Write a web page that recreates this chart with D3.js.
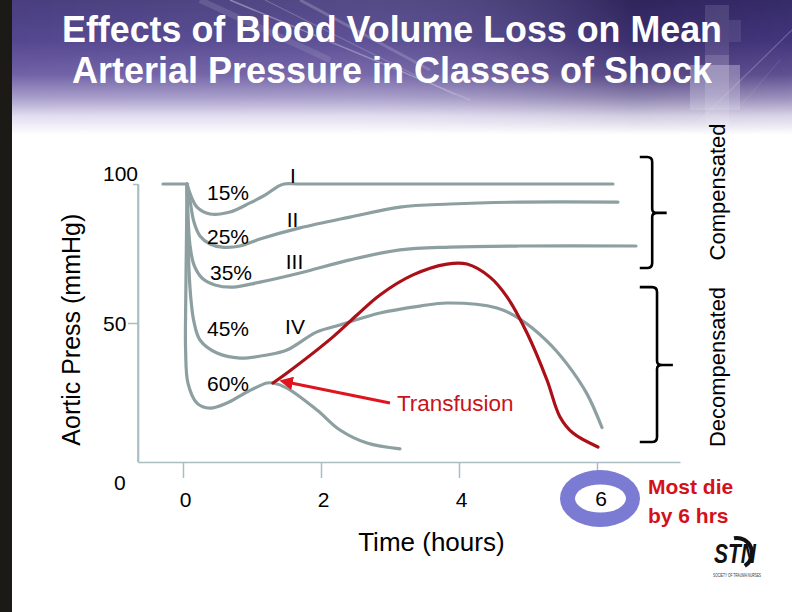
<!DOCTYPE html>
<html><head><meta charset="utf-8">
<script src="https://cdn.jsdelivr.net/npm/d3@7"></script>
<style>
body{margin:0;background:#fff}
svg{display:block}
text{font-family:Arial,"Liberation Sans",Helvetica,sans-serif}
</style>
</head><body>
<svg id="c" width="792" height="612"></svg>
<script>
// ---------------- data ----------------
const titleLines = ["Effects of Blood Volume Loss on Mean", "Arterial Pressure in Classes of Shock"];
const yTicks = [0, 50, 100];
const xTicks = [0, 2, 4, 6];
const lossLabels = ["15%", "25%", "35%", "45%", "60%"];
const classLabels = ["I", "II", "III", "IV"];

const hBase = [-0.29, 0.058];
const pBase = [100, 100];

const h15 = [0.058, 0.116, 0.203, 0.391, 0.681, 0.971, 1.188, 1.362, 1.464, 1.7, 6.232];
const p15 = [100, 95.7, 91.7, 89.2, 89.9, 93.2, 96.0, 98.9, 100, 100, 100];

const h25 = [0.058, 0.101, 0.159, 0.246, 0.391, 0.565, 0.826, 1.116, 1.696, 2.42, 3.145, 3.87, 4.884, 6.304];
const p25 = [100, 94.2, 86.3, 81.3, 78.4, 77.3, 77.7, 80.2, 84.2, 88.1, 91.7, 92.8, 93.5, 93.5];

const h35 = [0.058, 0.072, 0.101, 0.159, 0.275, 0.464, 0.725, 1.116, 1.696, 2.42, 3.145, 3.87, 4.884, 6.565];
const p35 = [100, 88.8, 78.1, 70.9, 66.2, 63.7, 62.9, 64.7, 68.0, 72.7, 76.3, 77.3, 77.7, 77.7];

const h45 = [0.058, 0.072, 0.087, 0.116, 0.159, 0.246, 0.493, 0.826, 1.217, 1.507, 1.942, 2.275, 2.855, 3.435, 3.826, 4.551, 4.884, 5.275, 5.565, 5.855, 6.072];
const p45 = [100, 83.5, 69.1, 58.3, 50.4, 43.9, 39.2, 37.4, 38.5, 40.3, 46.8, 49.3, 53.6, 56.1, 57.2, 55.4, 51.4, 43.5, 35.3, 24.5, 12.4];

const h60 = [0.058, 0.05, 0.04, 0.038, 0.072, 0.203, 0.391, 0.638, 0.928, 1.217, 1.304, 1.507, 1.942, 2.275, 2.667, 3.145];
const p60 = [100, 79.9, 58.3, 40.3, 28.4, 21.2, 19.4, 21.2, 25.2, 28.4, 28.4, 26.6, 18.7, 11.5, 6.8, 4.7];

const hTx = [1.304, 1.507, 2.174, 2.522, 2.855, 3.333, 3.826, 4.116, 4.449, 4.696, 4.986, 5.275, 5.464, 5.652, 6.014];
const pTx = [28.4, 32.0, 45.0, 52.9, 60.1, 67.3, 71.2, 71.2, 66.5, 59.4, 46.4, 29.5, 16.2, 10.4, 5.4];

// ---------------- setup ----------------
const svg = d3.select("#c");
const W = 792, H = 612;
const defs = svg.append("defs");

// background
const bg = defs.append("linearGradient").attr("id", "bgV").attr("x1", 0).attr("y1", 0).attr("x2", 0).attr("y2", 1);
[[0, "#3d3276"], [0.3, "#4b3d8a"], [0.55, "#6a5aa2"], [0.72, "#a49ac8"], [0.86, "#e2ddf0"], [1, "#ffffff"]]
  .forEach(s => bg.append("stop").attr("offset", s[0]).attr("stop-color", s[1]));
const bgH = defs.append("linearGradient").attr("id", "bgH").attr("x1", 0).attr("y1", 0).attr("x2", 1).attr("y2", 0);
[[0, "#ffffff", 0.06], [0.45, "#ffffff", 0.12], [0.8, "#100820", 0.3], [1, "#100820", 0.15]]
  .forEach(s => bgH.append("stop").attr("offset", s[0]).attr("stop-color", s[1]).attr("stop-opacity", s[2]));
const fade = defs.append("linearGradient").attr("id", "fadeV").attr("x1", 0).attr("y1", 0).attr("x2", 0).attr("y2", 1);
[[0, "#fff", 1], [0.55, "#fff", 0.8], [1, "#fff", 0]]
  .forEach(s => fade.append("stop").attr("offset", s[0]).attr("stop-color", s[1]).attr("stop-opacity", s[2]));
defs.append("mask").attr("id", "fadeMask").append("rect").attr("width", W).attr("height", 135).attr("fill", "url(#fadeV)");

svg.append("rect").attr("width", W).attr("height", H).attr("fill", "#fff");
svg.append("rect").attr("width", W).attr("height", 135).attr("fill", "url(#bgV)");
const deco = svg.append("g").attr("mask", "url(#fadeMask)");
deco.append("rect").attr("width", W).attr("height", 135).attr("fill", "url(#bgH)");
[[230, 0, 470, 100, 0.35, 1.5], [265, 0, 455, 95, 0.25, 1], [300, 0, 430, 70, 0.2, 3], [200, 0, 330, 60, 0.12, 6], [792, 30, 700, 120, 0.25, 1.2], [780, 60, 720, 130, 0.15, 1]]
  .forEach(s => deco.append("line").attr("x1", s[0]).attr("y1", s[1]).attr("x2", s[2]).attr("y2", s[3])
    .attr("stroke", "#fff").attr("stroke-opacity", s[4]).attr("stroke-width", s[5]));
[[705, 5, 24, 50, 0.12], [729, 20, 12, 22, 0.1], [690, 65, 50, 45, 0.35], [705, 55, 24, 70, 0.25]]
  .forEach(s => deco.append("rect").attr("x", s[0]).attr("y", s[1]).attr("width", s[2]).attr("height", s[3])
    .attr("fill", "#fff").attr("fill-opacity", s[4]));
svg.append("rect").attr("width", 12).attr("height", H).attr("fill", "#1b1a17");

// title
svg.selectAll("text.title").data(titleLines).join("text").attr("class", "title")
  .attr("x", 392).attr("y", (d, i) => 42 + i * 41)
  .attr("text-anchor", "middle").attr("fill", "#fff")
  .attr("font-size", 37).attr("font-weight", "bold")
  .attr("textLength", (d, i) => i === 0 ? 660 : 640).attr("lengthAdjust", "spacingAndGlyphs")
  .text(d => d);

// scales
const x = d3.scaleLinear().domain([-0.652, 7.203]).range([138, 680]);
const y = d3.scaleLinear().domain([0, 100]).range([462, 184]);
const axisColor = "#a9bdc3";

// y axis
const gy = svg.append("g").attr("transform", `translate(${x(-0.652)},0)`)
  .call(d3.axisLeft(y).tickValues(yTicks).tickSize(8).tickSizeOuter(0));
gy.select(".domain").attr("stroke", axisColor).attr("stroke-width", 1.6);
gy.append("line").attr("x1", 0).attr("x2", 0).attr("y1", y(0)).attr("y2", y(100))
  .attr("stroke", axisColor).attr("stroke-width", 1.6);
gy.selectAll(".tick line").attr("stroke", axisColor).attr("stroke-width", 1.5)
  .attr("x2", d => d === 0 ? 0 : (d === 100 ? -5 : -10));
const yLabOff = {0: [-24, 27], 50: [-35, 7], 100: [-35, -4]};
gy.selectAll(".tick text").attr("fill", "#000").attr("font-size", 21).attr("font-family", null)
  .attr("text-anchor", "start").attr("dy", null)
  .attr("x", d => yLabOff[d][0]).attr("y", d => yLabOff[d][1]);

// x axis
const gx = svg.append("g").attr("transform", `translate(0,${y(0)})`)
  .call(d3.axisBottom(x).tickValues(xTicks).tickSize(16).tickSizeOuter(0));
gx.select(".domain").attr("stroke", axisColor).attr("stroke-width", 1.6);
gx.selectAll(".tick line").attr("stroke", axisColor).attr("stroke-width", 1.5);
gx.selectAll(".tick text").attr("fill", "#000").attr("font-size", 21).attr("font-family", null)
  .attr("dy", null).attr("y", 45).attr("x", 2);

// axis titles
svg.append("text").attr("transform", `translate(80,${y(47.6)}) rotate(-90)`)
  .attr("text-anchor", "middle").attr("font-size", 25).attr("fill", "#000")
  .text("Aortic Press (mmHg)");
svg.append("text").attr("x", x(3.6)).attr("y", 551)
  .attr("text-anchor", "middle").attr("font-size", 26).attr("fill", "#000")
  .text("Time (hours)");

// curves
const line = d3.line().x(d => x(d[0])).y(d => y(d[1])).curve(d3.curveCatmullRom.alpha(0.5));
const grey = "#8d9fa1";
const series = [[hBase, pBase], [h15, p15], [h25, p25], [h35, p35], [h45, p45], [h60, p60]];
svg.append("g").selectAll("path").data(series).join("path")
  .attr("d", s => line(d3.zip(s[0], s[1])))
  .attr("fill", "none").attr("stroke", grey).attr("stroke-width", 3.2)
  .attr("stroke-linecap", "round").attr("stroke-linejoin", "round");
svg.append("path").attr("d", line(d3.zip(hTx, pTx)))
  .attr("fill", "none").attr("stroke", "#ab1018").attr("stroke-width", 3.2).attr("stroke-linecap", "round");

// labels on curves
const lossPos = [[0.348, 94.2], [0.348, 78.4], [0.391, 65.5], [0.348, 45.3], [0.348, 25.5]];
svg.append("g").selectAll("text").data(lossLabels).join("text")
  .attr("x", (d, i) => x(lossPos[i][0])).attr("y", (d, i) => y(lossPos[i][1]))
  .attr("font-size", 21).attr("fill", "#000").text(d => d);
const classPos = [[1.594, 100.4], [1.587, 84.5], [1.616, 69.4], [1.623, 46.0]];
svg.append("g").selectAll("text").data(classLabels).join("text")
  .attr("x", (d, i) => x(classPos[i][0])).attr("y", (d, i) => y(classPos[i][1]))
  .attr("text-anchor", "middle").attr("font-size", 21).attr("fill", "#000").text(d => d);

// transfusion arrow + label
defs.append("marker").attr("id", "ah").attr("viewBox", "0 0 10 10").attr("refX", 2).attr("refY", 5)
  .attr("markerWidth", 4.5).attr("markerHeight", 4.5).attr("orient", "auto-start-reverse")
  .append("path").attr("d", "M0,0 L10,5 L0,10 z").attr("fill", "#e0141e");
svg.append("line").attr("x1", x(3.0)).attr("y1", y(21.2)).attr("x2", x(1.55)).attr("y2", y(28.5))
  .attr("stroke", "#e0141e").attr("stroke-width", 3).attr("marker-end", "url(#ah)");
svg.append("text").attr("x", x(3.1)).attr("y", 411).attr("font-size", 22.5).attr("fill", "#c8141c")
  .text("Transfusion");

// brackets
function bracket(xTip, xV, xN, vTop, vBot, vMid) {
  const yt = y(vTop), yb = y(vBot), ym = y(vMid);
  const a = x(xTip), b = x(xV), n = x(xN), r = 5;
  return `M${a},${yt} L${b - r},${yt} Q${b},${yt} ${b},${yt + r} L${b},${ym - 4} Q${b},${ym} ${b + 5},${ym} L${n},${ym}` +
    ` M${b + 5},${ym} Q${b},${ym} ${b},${ym + 4} L${b},${yb - r} Q${b},${yb} ${b - r},${yb} L${a},${yb}`;
}
svg.append("path").attr("d", bracket(6.62, 6.80, 7.01, 109.7, 69.8, 89.6))
  .attr("fill", "none").attr("stroke", "#000").attr("stroke-width", 2.6);
svg.append("path").attr("d", bracket(6.62, 6.87, 7.10, 62.9, 7.2, 34.9))
  .attr("fill", "none").attr("stroke", "#000").attr("stroke-width", 2.6);
svg.append("text").attr("transform", `translate(725,192) rotate(-90)`)
  .attr("text-anchor", "middle").attr("font-size", 22).attr("fill", "#000").text("Compensated");
svg.append("text").attr("transform", `translate(725,367) rotate(-90)`)
  .attr("text-anchor", "middle").attr("font-size", 22).attr("fill", "#000").text("Decompensated");

// highlighted 6
const cx6 = x(6) + 3, cy6 = 498.5;
svg.append("ellipse").attr("cx", cx6).attr("cy", cy6).attr("rx", 40).attr("ry", 28.5).attr("fill", "#7b7bd4");
svg.append("ellipse").attr("cx", cx6 + 0.5).attr("cy", cy6).attr("rx", 25.5).attr("ry", 14).attr("fill", "#fff");
svg.append("text").attr("x", cx6 + 1).attr("y", 506).attr("text-anchor", "middle").attr("font-size", 21).attr("fill", "#000").text("6");

// note
svg.append("g").selectAll("text").data(["Most die", "by 6 hrs"]).join("text")
  .attr("x", 648).attr("y", (d, i) => 494 + i * 29).attr("font-size", 21).attr("font-weight", "bold")
  .attr("fill", "#d4101a").text(d => d);

// logo
const logo = svg.append("g").attr("transform", "translate(737,553)");
logo.append("path").attr("d", d3.arc()({innerRadius: 13, outerRadius: 17, startAngle: -0.2, endAngle: 2.6}))
  .attr("fill", "#111");
logo.append("text").attr("x", -2).attr("y", 10).attr("text-anchor", "middle")
  .attr("font-size", 27).attr("font-weight", "bold").attr("font-style", "italic").attr("fill", "#111")
  .attr("textLength", 42).attr("lengthAdjust", "spacingAndGlyphs").text("STN");
logo.append("text").attr("x", 0).attr("y", 24).attr("text-anchor", "middle")
  .attr("font-size", 5).attr("fill", "#333").attr("textLength", 48).attr("lengthAdjust", "spacingAndGlyphs")
  .text("SOCIETY OF TRAUMA NURSES");
</script>
</body></html>
